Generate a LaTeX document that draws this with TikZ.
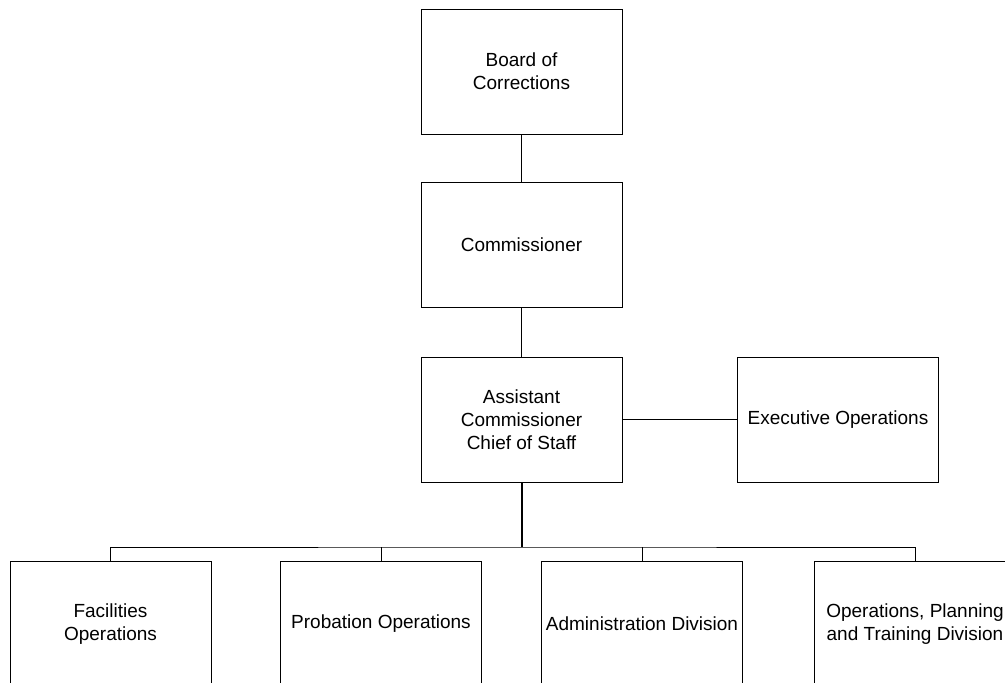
\documentclass[tikz,border=0pt]{standalone}
\usepackage{fontspec}
\setmainfont{Liberation Sans}
\usetikzlibrary{positioning}
\begin{document}
\begin{tikzpicture}[x=1pt,y=-1pt,
	box/.style={draw,line width=1pt,minimum width=201pt,minimum height=125pt,inner sep=0pt,align=center,font=\fontsize{19}{23}\selectfont},
	link/.style={line width=1pt}]
			\useasboundingbox (0,0) rectangle (1005,683);
			\clip (0,0) rectangle (1005,683);
			\node[box] (board) at (521.5,71.5) {Board of\\Corrections};
			\node[box] (comm) at (521.5,244.5) {Commissioner};
			\node[box] (asst) at (521.5,419.5) {Assistant\\Commissioner\\Chief of Staff};
			\node[box] (exec) at (838,419.5) {Executive Operations};
			\node[box,minimum height=126pt] (fac) at (110.5,624) {Facilities\\Operations};
			\node[box,minimum height=126pt] (prob) at (381,624) {Probation Operations};
			\node[box,minimum height=126pt] (admin) at (642,624) {Administration Division};
			\node[box,minimum height=126pt] (ops) at (915,624) {Operations, Planning\\and Training Division};
			\coordinate (bus) at (521.5,547);
			\draw[link] (board)--(comm);
			\draw[link] (comm)--(asst);
			\draw[link] (asst)--(exec);
			\draw[link,line width=2pt] (asst.south)--(bus);
			\draw[link] (fac.north)|-(bus)-|(ops.north);
			\draw[link] (prob.north)--(prob.north|-bus);
			\draw[link] (admin.north)--(admin.north|-bus);
			\end{tikzpicture}
\end{document}
